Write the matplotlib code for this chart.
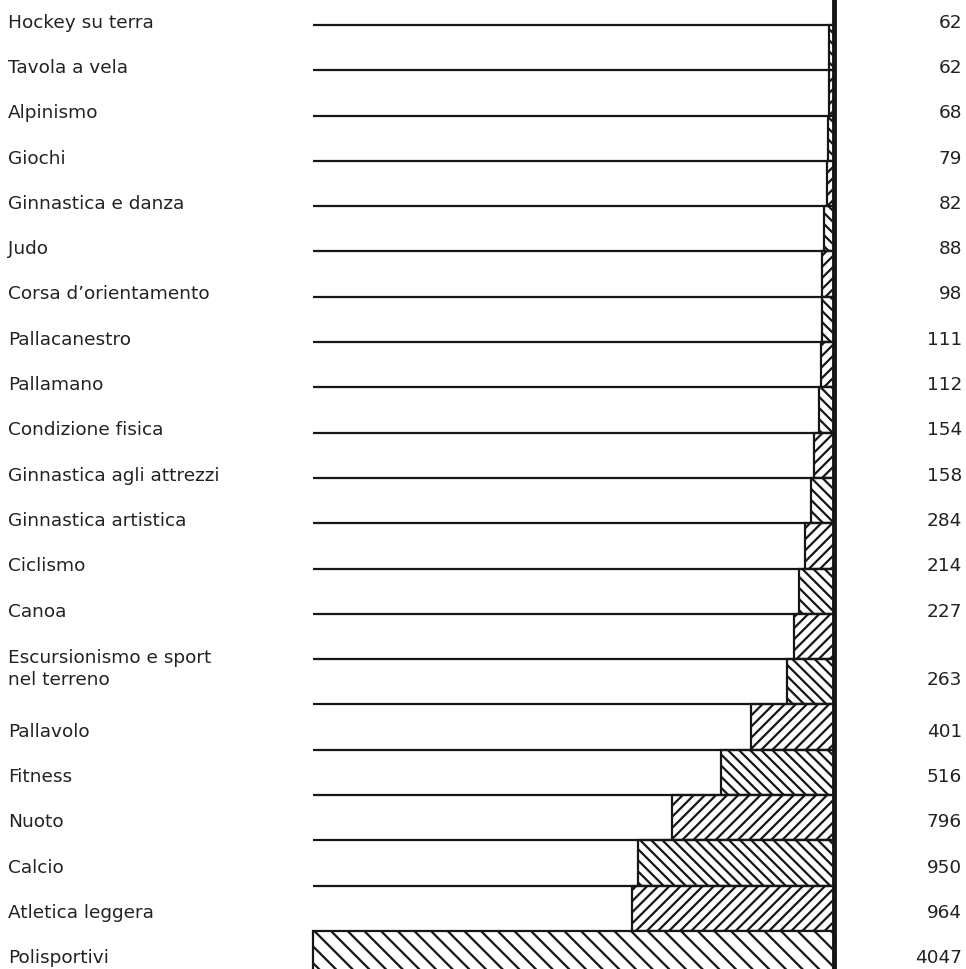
import matplotlib
matplotlib.use('Agg')
import matplotlib.pyplot as plt
from matplotlib.transforms import blended_transform_factory
import numpy as np

sports = ['Hockey su terra', 'Tavola a vela', 'Alpinismo', 'Giochi',
          'Ginnastica e danza', 'Judo', 'Corsa d\u2019orientamento',
          'Pallacanestro', 'Pallamano', 'Condizione fisica',
          'Ginnastica agli attrezzi', 'Ginnastica artistica', 'Ciclismo',
          'Canoa', 'Escursionismo e sport\nnel terreno', 'Pallavolo',
          'Fitness', 'Nuoto', 'Calcio', 'Atletica leggera', 'Polisportivi']

# numbers printed at the right
values = ['62', '62', '68', '79', '82', '88', '98', '111', '112', '154',
          '158', '284', '214', '227', '263', '401', '516', '796', '950',
          '964', '4047']

# bar lengths as drawn (hand-made chart, the last bar is broken)
bar_lengths = [24, 24, 29, 33, 48, 57, 57, 62, 72, 95, 110, 138, 167, 191,
               224, 396, 539, 773, 936, 964, 2487]

plt.rcParams['font.family'] = ['DejaVu Sans']
plt.rcParams['hatch.linewidth'] = 1.6

INK = '#161616'
TXT = '#222222'
px = 0.2095  # pixels per unit, only used to frame the axes
fig = plt.figure(figsize=(9.66, 9.69), dpi=100)
ax = fig.add_axes([0, 0, 1, 1])

n = len(sports)
rows = np.arange(n)
hatches = ['\\\\\\' if i % 2 == 0 else '///' for i in rows]
hatches[-1] = '\\\\'

for i in rows:
    ax.barh(i + 0.5, bar_lengths[i], height=1.0, left=0,
            facecolor='white', edgecolor=INK, linewidth=1.6,
            hatch=hatches[i], zorder=2)

# open-ended row lines
full = bar_lengths[-1]
ax.hlines(rows[:-1], 0, full, color=INK, linewidth=1.6, zorder=3)
ax.axvline(0, color=INK, linewidth=3.5, zorder=4)

ax.set_xlim(834 / px, -132 / px)
ax.set_ylim(20.84, -0.55)
ax.axis('off')

fs = 13.3
tr = blended_transform_factory(ax.transAxes, ax.transData)
for i in rows:
    y = i - 0.05 if i <= 14 else i + 0.6
    if i == 14:
        ax.text(8 / 966, y + 0.27, sports[i], transform=tr, ha='left',
                va='center', fontsize=fs, color=TXT, linespacing=1.25)
        ax.text(962 / 966, y + 0.52, values[i], transform=tr, ha='right',
                va='center', fontsize=fs, color=TXT)
        continue
    ax.text(8 / 966, y, sports[i], transform=tr, ha='left', va='center',
            fontsize=fs, color=TXT)
    ax.text(962 / 966, y, values[i], transform=tr, ha='right', va='center',
            fontsize=fs, color=TXT)

fig.savefig('out.png', dpi=100)
